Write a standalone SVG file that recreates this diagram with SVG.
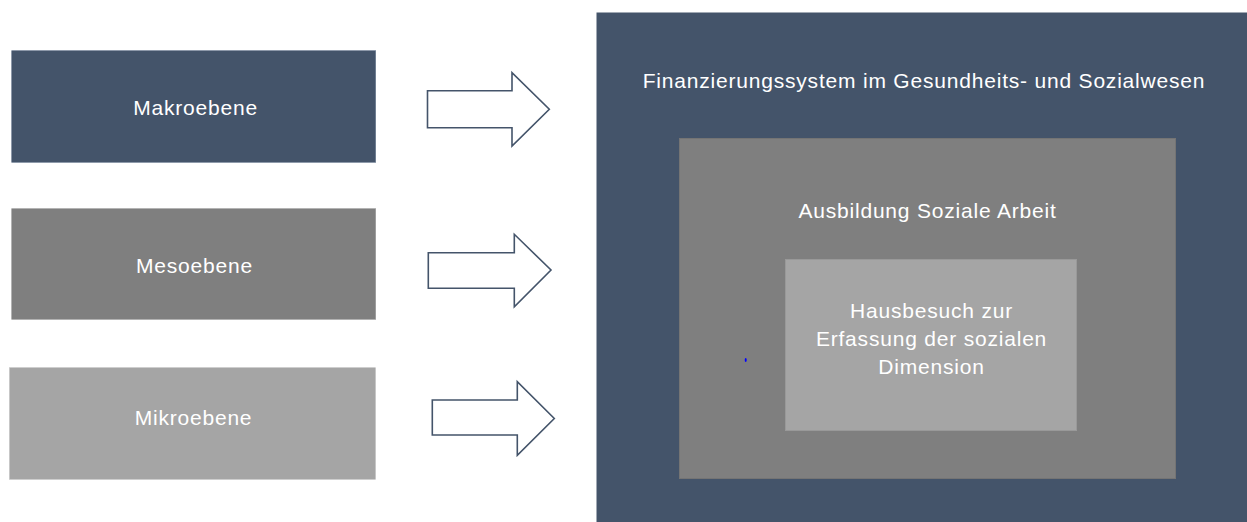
<svg xmlns="http://www.w3.org/2000/svg" width="1247" height="522" viewBox="0 0 1247 522">
<style>
text{font-family:"Liberation Sans",Arial,sans-serif;font-size:21px;letter-spacing:0.8px;fill:#ffffff;text-anchor:middle}
.arrow{fill:#ffffff;stroke:#44546a;stroke-width:1.6;stroke-linejoin:miter}
.dark{fill:#44546a;stroke:#6a7a90;stroke-width:0.6}
.mid{fill:#7f7f7f;stroke:#9a9a9a;stroke-width:0.6}
.light{fill:#a5a5a5;stroke:#c0c0c0;stroke-width:0.6}
</style>
<rect width="1247" height="522" fill="#ffffff"/>
<g id="outer">
<rect x="596.5" y="12.5" width="652" height="512" fill="#44546a"/>
<text x="924" y="88">Finanzierungssystem im Gesundheits- und Sozialwesen</text>
</g>
<g id="middle">
<rect x="679.5" y="138.5" width="496" height="340" fill="#7f7f7f" stroke="#747474" stroke-width="1"/>
<text x="927.5" y="218">Ausbildung Soziale Arbeit</text>
</g>
<g id="inner">
<rect x="785.5" y="259.5" width="291" height="171" fill="#a5a5a5" stroke="#999999" stroke-width="1"/>
<text x="931.5" y="318">Hausbesuch zur</text>
<text x="931.5" y="346">Erfassung der sozialen</text>
<text x="931.5" y="374">Dimension</text>
</g>
<ellipse cx="745.7" cy="360" rx="1" ry="2" fill="#0000ff"/>
<g id="makro">
<rect class="dark" x="11.7" y="50.7" width="364" height="111.6"/>
<text x="195.5" y="115">Makroebene</text>
</g>
<g id="meso">
<rect class="mid" x="11.7" y="208.7" width="364" height="110.6"/>
<text x="194.5" y="273">Mesoebene</text>
</g>
<g id="mikro">
<rect class="light" x="9.5" y="367.7" width="366" height="111.6"/>
<text x="193.5" y="425">Mikroebene</text>
</g>
<g id="connectors">
<polygon class="arrow" points="427.5,90.7 512,90.7 512,72.7 549.3,109.3 512,146 512,127.7 427.5,127.7"/>
<polygon class="arrow" points="428.3,252.7 514.3,252.7 514.3,234.3 551,270 514.3,306.7 514.3,288.3 428.3,288.3"/>
<polygon class="arrow" points="432.3,400 517.3,400 517.3,381.7 554.3,418.5 517.3,455.3 517.3,435 432.3,435"/>
</g>
</svg>
